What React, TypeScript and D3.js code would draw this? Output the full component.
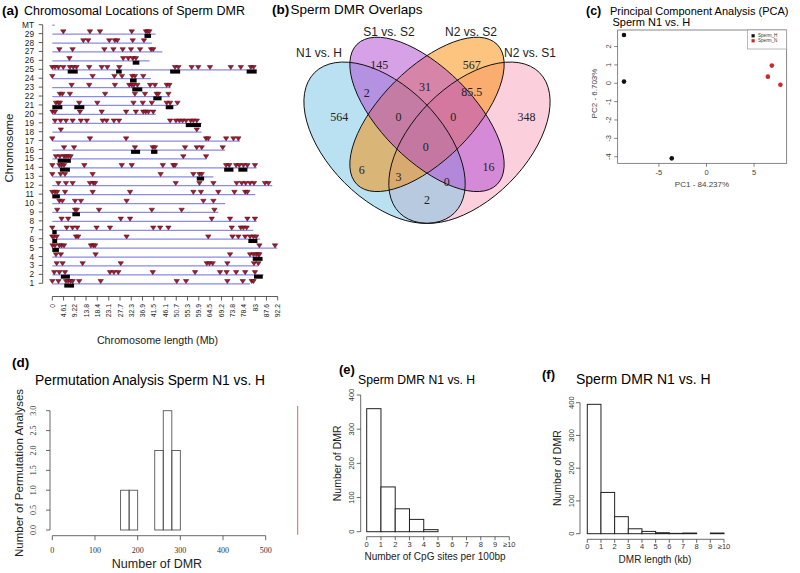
import React from "react";
import * as d3 from "d3";

const SANS = "'Liberation Sans', Arial, Helvetica, sans-serif";
const SERIF = "'Liberation Serif', 'Times New Roman', serif";

// ---------------- (a) Chromosomal locations ----------------
const chrNames = ["MT", "29", "28", "27", "26", "25", "24", "23", "22", "21", "20", "19", "18", "17", "16", "15", "14", "13", "12", "11", "10", "9", "8", "7", "6", "5", "4", "3", "2", "1"];
const chrLengthsMb = [1, 42.3, 40.7, 45, 39.8, 83.6, 40.3, 48.4, 48.2, 50.9, 42.3, 61.1, 61.1, 76.8, 70.7, 63.2, 83.6, 65.9, 90, 83, 70.7, 67.9, 83.6, 82.2, 85, 92, 85, 84.3, 86.4, 80.9];
const dmrPositionsMb: number[][] = [
  [],
  [4.5, 15.4, 19.5, 32.5, 38.3, 39, 39.7],
  [12.7, 14.7, 23.3, 25.6, 26.6, 32.9, 37.5],
  [2.9, 8.3, 21.3, 25, 28.8, 32.2, 35.9, 40.4, 41.3],
  [7, 29, 31.1, 32.9, 34.2],
  [0, 1.1, 2.5, 4.5, 7.2, 8.6, 9.9, 15.1, 20.2, 22.5, 27.4, 50.2, 51.6, 57, 59.7, 64.5, 73, 77.1, 81.2, 82.3],
  [0, 16.5, 25.4, 28.5, 32.7, 33.8, 37.2],
  [7.9, 15.1, 25.6, 31.5, 32.5, 33.4, 34.8, 40, 42, 46.8, 47.9],
  [3.1, 4.1, 7.2, 21.6, 33.8, 37.9, 42.7, 43.4, 47.5],
  [1.5, 2.5, 3.1, 11, 18.4, 33.2, 37, 40.7, 46.8, 48.2, 51.2],
  [0.1, 1.1, 11.3, 20.2, 30.2, 34.2, 37.2, 38.2, 39.3, 41.3],
  [1.1, 3.4, 5.6, 8.3, 11.7, 14.1, 20.6, 22.2, 25.2, 27.3, 48.2, 50.6, 52, 53.3, 54.7, 56.6, 57.7, 59.1],
  [3.5, 59.1],
  [0, 15.4, 30.2, 62.9, 63.8, 71.1, 74.1, 76.1],
  [4.8, 8.9, 33.8, 41.1, 42, 54.3, 59.1, 61.1, 69.7],
  [1.5, 3.1, 4.8, 5.6, 6.5, 7.5, 53.6, 62.9],
  [0, 2.9, 3.8, 4.8, 13.1, 28.4, 32.5, 45.2, 49.5, 50.2, 71.1, 72.4, 75.2, 76.5, 78.2, 79.8, 82.9],
  [0, 3.4, 5.2, 16.5, 44.3, 57.7, 60.2, 61.1],
  [2.5, 5.6, 8.3, 15.4, 16.8, 17.5, 50.5, 60.2, 65.9, 75.4, 77.5, 79.1, 80.9, 82.5, 87, 88.4],
  [0, 1.1, 2, 5.2, 16.5, 31.8, 57.7, 60.8, 67.9, 74.5, 78.9, 79.8],
  [2.9, 4.1, 9.3, 11.7, 30.4, 61.8, 65.9],
  [2, 9.3, 10, 19.1, 40.7, 52.9, 66.3],
  [3.8, 6.5, 28, 31.8, 65.2, 72.7, 79.8, 82.9],
  [0, 5.9, 8.3, 10.2, 18.1, 23.6, 41.3, 44.1, 47.5, 73.4, 77.1, 78.2, 79.5],
  [0, 0.7, 1.8, 9.7, 10.6, 30.4, 63.8, 73.7, 76.1, 78.9, 80.9, 82.3, 83.4],
  [0.1, 1.1, 2.9, 3.8, 4.8, 15.8, 16.8, 17.5, 84.7, 91.1],
  [1.5, 3.5, 17.7, 72.7, 80.9, 82.3, 83.4, 84.3, 84.7],
  [1.8, 4.2, 12.4, 28, 63.2, 64.3, 65.6, 71.6, 82.5, 84.3],
  [0.8, 2.9, 5.2, 23.6, 25.2, 27, 41.1, 58.4, 68.6, 71.3, 75.2, 78.9, 82.9],
  [0, 2.5, 5.6, 6.5, 7.5, 8.3, 11, 19.8, 50.9, 54.7, 71.6, 77.9, 81.6, 82.3],
];
const clusterChr = ["29", "26", "25", "25", "25", "25", "24", "23", "22", "21", "21", "21", "19", "16", "16", "15", "14", "14", "14", "13", "11", "9", "7", "6", "6", "5", "4", "2", "2", "1"];
const clusterStartMb = [37.7, 32.9, 6.3, 26.1, 48.2, 79.5, 31.8, 32.7, 41.3, 0, 9, 46.4, 54.6, 32.2, 40.4, 2.2, 3.1, 70.3, 76.1, 59.1, 0, 8.2, 0, 0, 80.2, 0, 82, 3.5, 82.5, 4.9];
const clusterEndMb = [40.4, 35.6, 10.4, 28.4, 52.3, 83.6, 34.5, 36.8, 44.7, 4.1, 13.1, 49.5, 60.8, 35.9, 43, 7.6, 7.2, 74.1, 79.8, 62.1, 3.1, 11.3, 1.8, 2, 83.9, 2.7, 86, 7.2, 86.1, 8.9];
const chrTickValues = [0, 4.61, 9.22, 13.8, 18.4, 23.1, 27.7, 32.3, 36.9, 41.5, 46.1, 50.7, 55.3, 59.9, 64.5, 69.2, 73.8, 78.4, 83, 87.6, 92.2];
const chrTickLabels = ["0", "4.61", "9.22", "13.8", "18.4", "23.1", "27.7", "32.3", "36.9", "41.5", "46.1", "50.7", "55.3", "59.9", "64.5", "69.2", "73.8", "78.4", "83", "87.6", "92.2"];

// ---------------- (b) Venn ----------------
const vennSetNames = ["N1 vs. H", "S1 vs. S2", "N2 vs. S2", "N2 vs. S1"];
const vennRegionLabels = ["564", "145", "567", "348", "2", "31", "85.5", "0", "0", "0", "6", "16", "3", "0", "2"];

// ---------------- (c) PCA ----------------
const pcaGroups = ["Sperm_H", "Sperm_N"];
const pcaSampleGroup = ["Sperm_H", "Sperm_H", "Sperm_H", "Sperm_N", "Sperm_N", "Sperm_N"];
const pcaPC1 = [-8.67, -8.67, -3.65, 6.87, 6.45, 7.77];
const pcaPC2 = [2.63, 0.09, -4.09, 0.96, 0.36, -0.08];
const pcaXTicks = [-5, 0, 5];
const pcaYTicks = [-4, -3, -2, -1, 0, 1, 2];

// ---------------- (d) Permutation ----------------
const permBinStarts = [160, 180, 200, 220, 240, 260, 280];
const permBinCounts = [1, 1, 0, 0, 2, 3, 2];
const permBinWidth = 20;
const observedDMR = 575;
const permXTicks = [0, 100, 200, 300, 400, 500];
const permYTicks = [0, 0.5, 1, 1.5, 2, 2.5, 3];
const permYTickLabels = ["0.0", "0.5", "1.0", "1.5", "2.0", "2.5", "3.0"];

// ---------------- (e) CpG density ----------------
const histBins = [0, 1, 2, 3, 4, 5, 6, 7, 8, 9];
const cpgCounts = [360, 131, 67, 36, 6, 0, 0, 0, 0, 0];
const histXTickLabels = ["0", "1", "2", "3", "4", "5", "6", "7", "8", "9", "\u226510"];
const histYTicks = [0, 100, 200, 300, 400];

// ---------------- (f) DMR length ----------------
const lengthCounts = [395, 126, 52, 15, 7, 3, 1, 2, 0, 2];

// colours
const triFill = "#a11a2c";
const chrLineColor = "#8a8ae8";
const vennColors = ["#73c3e3", "#af43d1", "#f98900", "#f7a1b9"]; // N1vsH, S1vsS2, N2vsS2, N2vsS1
const pcaColors = ["#111111", "#d0262b"];

function PanelA() {
  const x = d3.scaleLinear().domain([0, 92.2]).range([52.3, 277.7]);
  const y = d3.scalePoint<string>().domain(chrNames).range([24.7, 283.3]);
  const tri = (cx: number, cy: number) => `M${cx - 2.7},${cy - 3.8}L${cx + 2.7},${cy - 3.8}L${cx},${cy + 0.3}Z`;
  const axisY = 296.5;
  return (
    <g fontFamily={SANS}>
      <text x={2} y={15} fontSize={13.5} fontWeight="bold">(a)</text>
      <text x={24} y={15} fontSize={12.5}>Chromosomal Locations of Sperm DMR</text>
      {chrNames.map((c, i) => (
        <line key={"l" + c} x1={x(0)} x2={x(chrLengthsMb[i])} y1={(y(c) as number) + 0.5} y2={(y(c) as number) + 0.5} stroke={chrLineColor} strokeWidth={1.2} />
      ))}
      {clusterChr.map((c, i) => (
        <rect key={"b" + i} x={x(clusterStartMb[i])} width={x(clusterEndMb[i]) - x(clusterStartMb[i])} y={(y(c) as number) + 0.3} height={4} fill="#000" />
      ))}
      {chrNames.map((c, i) =>
        dmrPositionsMb[i].map((p, j) => (
          <path key={"t" + c + "_" + j} d={tri(x(p), y(c) as number)} fill={triFill} stroke="#4a0a14" strokeWidth={0.5} />
        ))
      )}
      <line x1={42.7} x2={42.7} y1={y("MT")} y2={y("1")} stroke="#333" strokeWidth={0.8} />
      {chrNames.map((c) => (
        <g key={"yt" + c}>
          <line x1={38.7} x2={42.7} y1={y(c)} y2={y(c)} stroke="#333" strokeWidth={0.8} />
          <text x={34} y={y(c)} fontSize={8.3} textAnchor="end" dominantBaseline="central" fill="#222">{c}</text>
        </g>
      ))}
      <text transform={`translate(9,148) rotate(-90)`} fontSize={11.5} textAnchor="middle" dominantBaseline="central" fill="#222">Chromosome</text>
      <line x1={x(0)} x2={x(92.2)} y1={axisY} y2={axisY} stroke="#333" strokeWidth={0.8} />
      {chrTickValues.map((v, i) => (
        <g key={"xt" + i}>
          <line x1={x(v)} x2={x(v)} y1={axisY} y2={axisY + 4} stroke="#333" strokeWidth={0.8} />
          <text transform={`translate(${x(v)},${axisY + 7.5}) rotate(-90)`} fontSize={6.8} textAnchor="end" dominantBaseline="central" fill="#222">{chrTickLabels[i]}</text>
        </g>
      ))}
      <text x={157.5} y={343.5} fontSize={10.7} textAnchor="middle" fill="#222">Chromosome length (Mb)</text>
    </g>
  );
}

// Venn layout (quad layout in unit coordinates)
const vennEllipses = [
  { set: 3, cx: 0.65, cy: 0.47, a: 0.35, b: 0.2, rot: 45 },
  { set: 0, cx: 0.35, cy: 0.47, a: 0.35, b: 0.2, rot: 135 },
  { set: 2, cx: 0.5, cy: 0.57, a: 0.35, b: 0.162, rot: 45 },
  { set: 1, cx: 0.5, cy: 0.57, a: 0.35, b: 0.162, rot: 135 },
];
const vennLabelLayout: [number, number][] = [
  [0.19, 0.56], [0.331, 0.745], [0.658, 0.745], [0.852, 0.56],
  [0.287, 0.647], [0.493, 0.666], [0.658, 0.65],
  [0.399, 0.56], [0.593, 0.56], [0.496, 0.456],
  [0.269, 0.374], [0.717, 0.385], [0.399, 0.35], [0.57, 0.332], [0.5, 0.268],
];
const vennSetLabelLayout: [number, number][] = [[319, 57], [389, 36], [471, 36], [530, 57]];

function PanelB() {
  const k = 283;
  const sx = d3.scaleLinear().domain([0, 1]).range([427 - 0.5 * k, 427 + 0.5 * k]);
  const sy = d3.scaleLinear().domain([0, 1]).range([38 + 0.84 * k, 38 - 0.16 * k]);
  return (
    <g>
      <text x={272} y={14} fontSize={13.5} fontWeight="bold" fontFamily={SANS}>(b)</text>
      <text x={290.5} y={14} fontSize={13.5} fontFamily={SANS}>Sperm DMR Overlaps</text>
      <g transform={`translate(${sx(0)},${sy(0)}) scale(${k},${-k})`}>
        {vennEllipses.map((e, i) => (
          <ellipse key={"f" + i} cx={0} cy={0} rx={e.a} ry={e.b} transform={`translate(${e.cx},${e.cy}) rotate(${e.rot})`} fill={vennColors[e.set]} fillOpacity={0.5} stroke="none" />
        ))}
        {vennEllipses.map((e, i) => (
          <ellipse key={"s" + i} cx={0} cy={0} rx={e.a} ry={e.b} transform={`translate(${e.cx},${e.cy}) rotate(${e.rot})`} fill="none" stroke="#111" strokeWidth={1} vectorEffect="non-scaling-stroke" />
        ))}
      </g>
      {vennRegionLabels.map((t, i) => (
        <text key={"vl" + i} x={sx(vennLabelLayout[i][0])} y={sy(vennLabelLayout[i][1])} fontSize={12} fontFamily={SERIF} textAnchor="middle" dominantBaseline="central" fill="#222">{t}</text>
      ))}
      {vennSetNames.map((t, i) => (
        <text key={"vs" + i} x={vennSetLabelLayout[i][0]} y={vennSetLabelLayout[i][1]} fontSize={12} fontFamily={SANS} textAnchor="middle" fill="#222">{t}</text>
      ))}
    </g>
  );
}

function PanelC() {
  const x = d3.scaleLinear().domain([-9.33, 8.43]).range([617.7, 786.7]);
  const y = d3.scaleLinear().domain([-4.36, 2.9]).range([163.3, 30]);
  const col = d3.scaleOrdinal<string, string>().domain(pcaGroups).range(pcaColors);
  return (
    <g fontFamily={SANS}>
      <text x={586} y={14.5} fontSize={12.5} fontWeight="bold">(c)</text>
      <text x={610} y={14.5} fontSize={11}>Principal Component Analysis (PCA)</text>
      <text x={612.5} y={25.5} fontSize={11}>Sperm N1 vs. H</text>
      <rect x={617.7} y={30} width={169} height={133.3} fill="none" stroke="#555" strokeWidth={0.7} />
      {pcaXTicks.map((v) => (
        <g key={"cx" + v}>
          <line x1={x(v)} x2={x(v)} y1={163.3} y2={166.8} stroke="#555" strokeWidth={0.7} />
          <text x={x(v)} y={172.8} fontSize={7.5} textAnchor="middle" dominantBaseline="central" fill="#444">{v}</text>
        </g>
      ))}
      {pcaYTicks.map((v) => (
        <g key={"cy" + v}>
          <line x1={614.2} x2={617.7} y1={y(v)} y2={y(v)} stroke="#555" strokeWidth={0.7} />
          <text transform={`translate(608,${y(v)}) rotate(-90)`} fontSize={7.5} textAnchor="middle" dominantBaseline="central" fill="#444">{v}</text>
        </g>
      ))}
      <text x={702} y={184.5} fontSize={8} textAnchor="middle" dominantBaseline="central" fill="#444">PC1 - 84.237%</text>
      <text transform={`translate(594.5,93.5) rotate(-90)`} fontSize={8} textAnchor="middle" dominantBaseline="central" fill="#444">PC2 - 6.703%</text>
      {pcaPC1.map((v, i) => (
        <circle key={"p" + i} cx={x(v)} cy={y(pcaPC2[i])} r={2.3} fill={col(pcaSampleGroup[i])} />
      ))}
      <rect x={747.5} y={30} width={39.2} height={19} fill="#fff" stroke="#777" strokeWidth={0.5} />
      {pcaGroups.map((g, i) => (
        <g key={"lg" + g}>
          <rect x={751.5} y={35.8 + i * 5 - 1.6} width={3.2} height={3.2} fill={col(g)} />
          <text x={758} y={35.8 + i * 5} fontSize={4.6} dominantBaseline="central" fill="#333">{g}</text>
        </g>
      ))}
    </g>
  );
}

function PanelD() {
  const x = d3.scaleLinear().domain([0, 500]).range([52.3, 265.7]);
  const y = d3.scaleLinear().domain([0, 3]).range([530, 410.7]);
  const axisY = 535.7;
  return (
    <g fontFamily={SANS}>
      <text x={12} y={366.5} fontSize={13.5} fontWeight="bold">(d)</text>
      <text x={35} y={385} fontSize={13.8}>Permutation Analysis Sperm N1 vs. H</text>
      {permBinStarts.map((s, i) => (
        <rect key={"pb" + i} x={x(s)} width={x(s + permBinWidth) - x(s)} y={y(permBinCounts[i])} height={y(0) - y(permBinCounts[i])} fill="none" stroke="#555" strokeWidth={0.9} />
      ))}
      <line x1={x(observedDMR)} x2={x(observedDMR)} y1={y(-0.12)} y2={y(3.12)} stroke="#d0505c" strokeWidth={0.9} />
      <line x1={50} x2={50} y1={y(0)} y2={y(3)} stroke="#444" strokeWidth={0.8} />
      {permYTicks.map((v, i) => (
        <g key={"dy" + i}>
          <line x1={46} x2={50} y1={y(v)} y2={y(v)} stroke="#444" strokeWidth={0.8} />
          <text transform={`translate(33.5,${y(v)}) rotate(-90)`} fontSize={8} fontFamily={SERIF} textAnchor="middle" dominantBaseline="central" fill="#333">{permYTickLabels[i]}</text>
        </g>
      ))}
      <line x1={x(0)} x2={x(500)} y1={axisY} y2={axisY} stroke="#444" strokeWidth={0.8} />
      {permXTicks.map((v) => (
        <g key={"dx" + v}>
          <line x1={x(v)} x2={x(v)} y1={axisY} y2={axisY + 4.5} stroke="#444" strokeWidth={0.8} />
          <text x={x(v)} y={550} fontSize={8} fontFamily={SERIF} textAnchor="middle" dominantBaseline="central" fill="#333">{v}</text>
        </g>
      ))}
      <text x={157} y={567.5} fontSize={12.5} textAnchor="middle" fill="#222">Number of DMR</text>
      <text transform={`translate(19,473) rotate(-90)`} fontSize={11.5} textAnchor="middle" dominantBaseline="central" fill="#222">Number of Permutation Analyses</text>
    </g>
  );
}

function Histogram(props: {
  counts: number[]; x0: number; x1: number; y0: number; y1: number; axisX: number; axisY: number;
  label: string; tag: string; tagX: number; tagY: number; titleX: number; titleY: number; titleSize: number;
  yLabelX: number; yTickX: number; xLabel: string; xLabelX: number; xLabelY: number; xTickY: number;
}) {
  const p = props;
  const x = d3.scaleLinear().domain([0, 10]).range([p.x0, p.x1]);
  const y = d3.scaleLinear().domain([0, 400]).range([p.y0, p.y1]);
  return (
    <g fontFamily={SANS}>
      <text x={p.tagX} y={p.tagY} fontSize={13} fontWeight="bold">{p.tag}</text>
      <text x={p.titleX} y={p.titleY} fontSize={p.titleSize}>{p.label}</text>
      {histBins.map((b, i) => (
        <rect key={"hb" + i} x={x(b)} width={x(b + 1) - x(b)} y={y(p.counts[i])} height={y(0) - y(p.counts[i])} fill="#fff" stroke="#222" strokeWidth={1} />
      ))}
      <line x1={p.axisX} x2={p.axisX} y1={y(0)} y2={y(400)} stroke="#444" strokeWidth={0.8} />
      {histYTicks.map((v) => (
        <g key={"hy" + v}>
          <line x1={p.axisX - 4} x2={p.axisX} y1={y(v)} y2={y(v)} stroke="#444" strokeWidth={0.8} />
          <text transform={`translate(${p.yTickX},${y(v)}) rotate(-90)`} fontSize={7.5} textAnchor="middle" dominantBaseline="central" fill="#333">{v}</text>
        </g>
      ))}
      <line x1={x(0)} x2={x(10)} y1={p.axisY} y2={p.axisY} stroke="#444" strokeWidth={0.8} />
      {histXTickLabels.map((t, i) => (
        <g key={"hx" + i}>
          <line x1={x(i)} x2={x(i)} y1={p.axisY} y2={p.axisY + 3.5} stroke="#444" strokeWidth={0.8} />
          <text x={x(i)} y={p.xTickY} fontSize={7.5} textAnchor="middle" dominantBaseline="central" fill="#333">{t}</text>
        </g>
      ))}
      <text x={p.xLabelX} y={p.xLabelY} fontSize={10} textAnchor="middle" dominantBaseline="central" fill="#222">{p.xLabel}</text>
      <text transform={`translate(${p.yLabelX},${(p.y0 + p.y1) / 2}) rotate(-90)`} fontSize={10.5} textAnchor="middle" dominantBaseline="central" fill="#222">Number of DMR</text>
    </g>
  );
}

export default function App() {
  return (
    <div style={{ position: "absolute", left: 0, top: 0 }}>
      <svg width={800} height={573} viewBox="0 0 800 573" style={{ display: "block", background: "#fff" }}>
        <rect x={0} y={0} width={800} height={573} fill="#fff" />
        <PanelA />
        <PanelB />
        <PanelC />
        <PanelD />
        <Histogram counts={cpgCounts} x0={366.7} x1={509.3} y0={531.7} y1={395} axisX={360.7} axisY={536.7}
          label="Sperm DMR N1 vs. H" tag="(e)" tagX={339} tagY={374} titleX={358} titleY={383.5} titleSize={12.2}
          yLabelX={336.7} yTickX={351} xLabel="Number of CpG sites per 100bp" xLabelX={435} xLabelY={556.7} xTickY={544.5} />
        <Histogram counts={lengthCounts} x0={587.3} x1={724} y0={533.7} y1={402.7} axisX={580} axisY={539.3}
          label="Sperm DMR N1 vs. H" tag="(f)" tagX={542} tagY={379} titleX={576} titleY={384} titleSize={14}
          yLabelX={557.3} yTickX={571.7} xLabel="DMR length (kb)" xLabelX={655} xLabelY={559.3} xTickY={546.7} />
      </svg>
    </div>
  );
}
